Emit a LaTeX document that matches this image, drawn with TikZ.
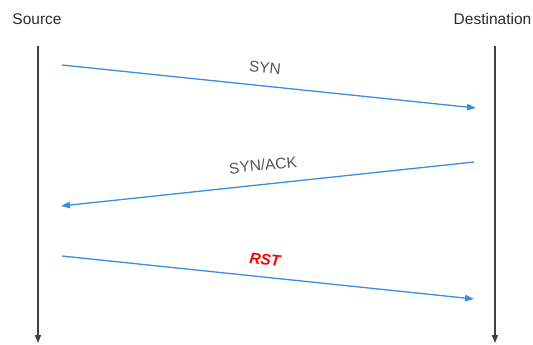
\documentclass[tikz,border=0pt]{standalone}
\usepackage{fontspec}
\setmainfont{Liberation Sans}
\usetikzlibrary{arrows.meta}
\definecolor{msgblue}{HTML}{3A8EE0}
\definecolor{txtgray}{HTML}{2B2B2B}
\tikzset{
  lifeline/.style={draw=txtgray!90, line width=1.5pt, -{Triangle[length=8pt,width=6pt]}},
  msg/.style={draw=msgblue, line width=1.3pt, -{Triangle[length=9pt,width=6.5pt]}},
  actor/.style={font=\fontsize{15.5}{18}\selectfont, text=txtgray, inner sep=0pt},
  lbl/.style={font=\fontsize{15.5}{18}\selectfont, text=txtgray!80, inner sep=0pt},
  rstlbl/.style={font=\fontsize{15.5}{18}\selectfont\bfseries\itshape, text=red, inner sep=0pt}
}
\begin{document}
\begin{tikzpicture}[x=1pt,y=-1pt]
\useasboundingbox (0,0) rectangle (533,345);
\node[actor] (src) at (37,19) {Source};
\node[actor] (dst) at (492.5,19) {Destination};
\coordinate (s0) at (38,46);
\coordinate (s1) at (38,343);
\coordinate (d0) at (495,46);
\coordinate (d1) at (495,343);
\draw[lifeline] (s0) -- (s1);
\draw[lifeline] (d0) -- (d1);
\coordinate (a1) at (62,65);
\coordinate (b1) at (476,108);
\coordinate (a2) at (474,162);
\coordinate (b2) at (61,206);
\coordinate (a3) at (62,256);
\coordinate (b3) at (474,299);
\draw[msg] (a1) -- (b1);
\draw[msg] (a2) -- (b2);
\draw[msg] (a3) -- (b3);
\node[lbl, rotate=-5.9] (syn) at (265,67.5) {SYN};
\node[lbl, rotate=5.9] (synack) at (263,165) {SYN/ACK};
\node[rstlbl, rotate=-5.9] (rst) at (265,260) {RST};
\end{tikzpicture}
\end{document}
